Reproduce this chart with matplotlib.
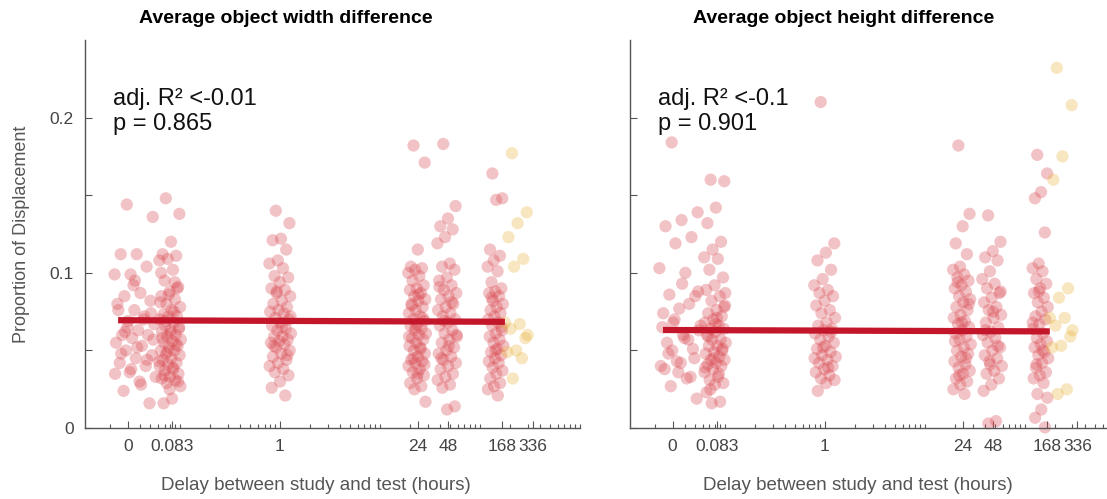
import numpy as np
import matplotlib.pyplot as plt
from matplotlib.ticker import FixedLocator, LogLocator, NullFormatter

plt.rcParams['font.family'] = ['Liberation Sans', 'DejaVu Sans']

# delays (hours) of each group, tick labels
delays = [0, 0.083, 1, 24, 48, 168, 336]
tick_labels = ['0', '0.083', '1', '24', '48', '168', '336']
zero_pos = 0.03  # where "0 hours" sits on the log axis

# average object width difference, per delay group
w_0 = [0.144, 0.136, 0.112, 0.112, 0.104, 0.099, 0.099, 0.087, 0.085, 0.082, 0.076, 0.076,
       0.072, 0.069, 0.067, 0.063, 0.060, 0.060, 0.058, 0.055, 0.053, 0.050, 0.047, 0.045,
       0.042, 0.040, 0.036, 0.033, 0.030, 0.024, 0.016, 0.092, 0.080, 0.070, 0.065, 0.057,
       0.052, 0.048, 0.044, 0.038, 0.035, 0.028, 0.062, 0.074, 0.095]
w_083 = [0.148, 0.138, 0.120, 0.112, 0.111, 0.109, 0.108, 0.102, 0.095, 0.091, 0.088, 0.085,
         0.083, 0.080, 0.078, 0.076, 0.073, 0.072, 0.072, 0.070, 0.068, 0.066, 0.064, 0.063,
         0.062, 0.060, 0.059, 0.057, 0.056, 0.055, 0.053, 0.052, 0.050, 0.050, 0.048, 0.047,
         0.045, 0.044, 0.042, 0.041, 0.040, 0.038, 0.037, 0.035, 0.033, 0.032, 0.031, 0.029,
         0.027, 0.019, 0.016, 0.090, 0.086, 0.081, 0.075, 0.069, 0.065, 0.061, 0.058, 0.054,
         0.049, 0.043, 0.039, 0.034, 0.030, 0.025, 0.100, 0.094]
w_1 = [0.140, 0.132, 0.122, 0.121, 0.115, 0.108, 0.106, 0.103, 0.098, 0.097, 0.094, 0.090,
       0.089, 0.087, 0.085, 0.082, 0.080, 0.078, 0.076, 0.075, 0.074, 0.071, 0.070, 0.068,
       0.066, 0.064, 0.063, 0.061, 0.059, 0.059, 0.057, 0.056, 0.055, 0.054, 0.052, 0.050,
       0.048, 0.046, 0.044, 0.042, 0.040, 0.038, 0.036, 0.034, 0.030, 0.026, 0.021, 0.088,
       0.072, 0.065, 0.053, 0.047]
w_24 = [0.182, 0.171, 0.115, 0.104, 0.103, 0.102, 0.100, 0.098, 0.095, 0.092, 0.090, 0.089,
        0.087, 0.085, 0.083, 0.082, 0.080, 0.078, 0.076, 0.074, 0.072, 0.070, 0.069, 0.067,
        0.066, 0.064, 0.063, 0.061, 0.060, 0.058, 0.057, 0.055, 0.053, 0.051, 0.050, 0.048,
        0.046, 0.044, 0.043, 0.042, 0.040, 0.038, 0.036, 0.034, 0.032, 0.029, 0.027, 0.025,
        0.017, 0.086, 0.079, 0.071, 0.065, 0.059, 0.052, 0.045, 0.041, 0.035]
w_48 = [0.183, 0.143, 0.135, 0.130, 0.128, 0.123, 0.119, 0.106, 0.104, 0.102, 0.097, 0.095,
        0.092, 0.089, 0.087, 0.085, 0.083, 0.080, 0.078, 0.076, 0.074, 0.072, 0.070, 0.068,
        0.066, 0.063, 0.061, 0.059, 0.057, 0.055, 0.052, 0.050, 0.048, 0.046, 0.044, 0.042,
        0.040, 0.038, 0.035, 0.033, 0.031, 0.028, 0.026, 0.014, 0.012, 0.091, 0.081, 0.069,
        0.060, 0.053, 0.045]
w_168 = [0.164, 0.148, 0.147, 0.115, 0.111, 0.108, 0.104, 0.101, 0.094, 0.090, 0.088, 0.087,
         0.085, 0.082, 0.080, 0.078, 0.076, 0.074, 0.072, 0.070, 0.068, 0.066, 0.063, 0.061,
         0.059, 0.057, 0.055, 0.053, 0.051, 0.049, 0.047, 0.045, 0.043, 0.042, 0.039, 0.037,
         0.035, 0.032, 0.029, 0.027, 0.025, 0.021, 0.084, 0.065, 0.050]
w_336 = [0.177, 0.139, 0.132, 0.123, 0.109, 0.104, 0.068, 0.067, 0.064, 0.058, 0.050, 0.049,
         0.045, 0.032, 0.060]

# average object height difference, per delay group
h_0 = [0.184, 0.139, 0.134, 0.130, 0.123, 0.119, 0.103, 0.100, 0.086, 0.085, 0.077, 0.074,
       0.080, 0.068, 0.063, 0.060, 0.055, 0.051, 0.043, 0.040, 0.032, 0.027, 0.019, 0.042,
       0.038, 0.033, 0.070, 0.066, 0.058, 0.048, 0.045, 0.036, 0.065, 0.057, 0.050, 0.088,
       0.093]
h_083 = [0.160, 0.159, 0.142, 0.132, 0.120, 0.115, 0.110, 0.109, 0.102, 0.097, 0.092, 0.089,
         0.085, 0.082, 0.079, 0.076, 0.074, 0.072, 0.070, 0.068, 0.066, 0.064, 0.064, 0.062,
         0.060, 0.057, 0.057, 0.055, 0.053, 0.053, 0.051, 0.049, 0.048, 0.046, 0.044, 0.044,
         0.042, 0.041, 0.040, 0.038, 0.036, 0.033, 0.031, 0.029, 0.028, 0.023, 0.017, 0.016,
         0.087, 0.071, 0.059, 0.050, 0.045, 0.039, 0.035, 0.025, 0.078, 0.067]
h_1 = [0.210, 0.119, 0.113, 0.108, 0.102, 0.096, 0.092, 0.089, 0.087, 0.085, 0.082, 0.079,
       0.076, 0.074, 0.071, 0.068, 0.066, 0.064, 0.063, 0.061, 0.059, 0.057, 0.055, 0.053,
       0.051, 0.049, 0.047, 0.046, 0.044, 0.042, 0.040, 0.038, 0.036, 0.034, 0.032, 0.031,
       0.029, 0.024, 0.062, 0.052, 0.045, 0.039]
h_24 = [0.182, 0.138, 0.130, 0.119, 0.112, 0.104, 0.102, 0.099, 0.097, 0.095, 0.092, 0.090,
        0.088, 0.085, 0.083, 0.081, 0.078, 0.076, 0.073, 0.071, 0.069, 0.067, 0.065, 0.063,
        0.061, 0.059, 0.057, 0.054, 0.052, 0.050, 0.048, 0.046, 0.043, 0.041, 0.039, 0.037,
        0.035, 0.032, 0.030, 0.028, 0.025, 0.022, 0.094, 0.080, 0.068, 0.056, 0.045, 0.034]
h_48 = [0.137, 0.120, 0.114, 0.110, 0.108, 0.101, 0.096, 0.093, 0.090, 0.087, 0.084, 0.081,
        0.078, 0.076, 0.073, 0.071, 0.068, 0.065, 0.062, 0.060, 0.058, 0.055, 0.052, 0.050,
        0.047, 0.045, 0.043, 0.040, 0.037, 0.035, 0.032, 0.028, 0.024, 0.0045, 0.003, 0.088,
        0.075, 0.063, 0.053, 0.041]
h_168 = [0.176, 0.164, 0.152, 0.148, 0.126, 0.106, 0.103, 0.101, 0.096, 0.093, 0.090, 0.087,
         0.084, 0.081, 0.078, 0.075, 0.072, 0.070, 0.067, 0.064, 0.061, 0.058, 0.056, 0.054,
         0.052, 0.049, 0.047, 0.045, 0.042, 0.039, 0.036, 0.034, 0.032, 0.029, 0.022, 0.0196,
         0.012, 0.0067, 0.0005, 0.088, 0.068, 0.050, 0.041]
h_336 = [0.232, 0.208, 0.175, 0.160, 0.090, 0.084, 0.071, 0.071, 0.066, 0.059, 0.053, 0.052,
         0.025, 0.022, 0.063]

# regression line ends (hours, proportion)
fit_x = [0.024, 178]
width_fit = [0.0695, 0.0685]
height_fit = [0.0632, 0.0623]

titles = ['Average object width difference', 'Average object height difference']
stats = ['adj. R\u00b2 <-0.01\np = 0.865', 'adj. R\u00b2 <-0.1\np = 0.901']

# jitter half-width and shift (decades) per group, only layout
half = [0.21, 0.11, 0.11, 0.09, 0.10, 0.08, 0.12]
shift = [0.07, -0.02, 0.0, -0.01, -0.01, -0.07, -0.16]

red = '#d9474f'
yellow = '#e8b33a'
line_red = '#c3162b'
grey = '#555555'


def spread(n, h):
    k = np.arange(n)
    return ((k * 0.6180339887 + 0.31) % 1.0 * 2 - 1) * h


fig = plt.figure(figsize=(11.07, 4.99), dpi=100)
axes = [fig.add_axes([0.0768, 0.142, 0.447, 0.778]),
        fig.add_axes([0.569, 0.142, 0.447, 0.778])]

panels = [[w_0, w_083, w_1, w_24, w_48, w_168, w_336],
          [h_0, h_083, h_1, h_24, h_48, h_168, h_336]]
fits = [width_fit, height_fit]

for i, ax in enumerate(axes):
    for g, vals in enumerate(panels[i]):
        d = delays[g] if delays[g] > 0 else zero_pos
        xs = d * 10 ** (shift[g] + spread(len(vals), half[g]))
        col = yellow if g == 6 else red
        ax.scatter(xs, vals, s=78, color=col, alpha=0.32, edgecolors='none',
                   clip_on=False, zorder=2)
    ax.plot(fit_x, fits[i], color=line_red, lw=4.5, solid_capstyle='butt', zorder=3)

    ax.set_xscale('log')
    ax.set_xlim(0.0112, 1000)
    ax.set_ylim(0, 0.25)
    pos = [d if d > 0 else zero_pos for d in delays]
    ax.xaxis.set_major_locator(FixedLocator(pos))
    ax.set_xticklabels(tick_labels)
    ax.xaxis.set_minor_locator(LogLocator(base=10, subs=np.arange(1, 10), numticks=20))
    ax.xaxis.set_minor_formatter(NullFormatter())
    ax.set_yticks([0, 0.05, 0.1, 0.15, 0.2])
    if i == 0:
        ax.set_yticklabels(['0', '', '0.1', '', '0.2'])
        ax.set_ylabel('Proportion of Displacement', fontsize=13, color=grey, labelpad=14)
    else:
        ax.set_yticklabels([])
    ax.tick_params(which='both', direction='in', colors=grey, labelcolor='#444444',
                   labelsize=12.5, width=0.8)
    ax.tick_params(axis='x', which='major', length=5, pad=8)
    ax.tick_params(axis='x', which='minor', length=3)
    ax.tick_params(axis='y', length=5, pad=8)
    for s in ['top', 'right']:
        ax.spines[s].set_visible(False)
    for s in ['left', 'bottom']:
        ax.spines[s].set_color(grey)
        ax.spines[s].set_linewidth(1.0)
    ax.text(0.057, 0.875, stats[i], transform=ax.transAxes, fontsize=17, color='#111111',
            va='top', linespacing=1.15)

fig.text(0.258, 0.962, titles[0], ha='center', va='center', fontsize=14, fontweight='bold')
fig.text(0.762, 0.962, titles[1], ha='center', va='center', fontsize=14, fontweight='bold')
fig.text(0.285, 0.027, 'Delay between study and test (hours)', ha='center', va='center',
         fontsize=13.5, color=grey)
fig.text(0.775, 0.027, 'Delay between study and test (hours)', ha='center', va='center',
         fontsize=13.5, color=grey)

fig.savefig('out.png', dpi=100)
